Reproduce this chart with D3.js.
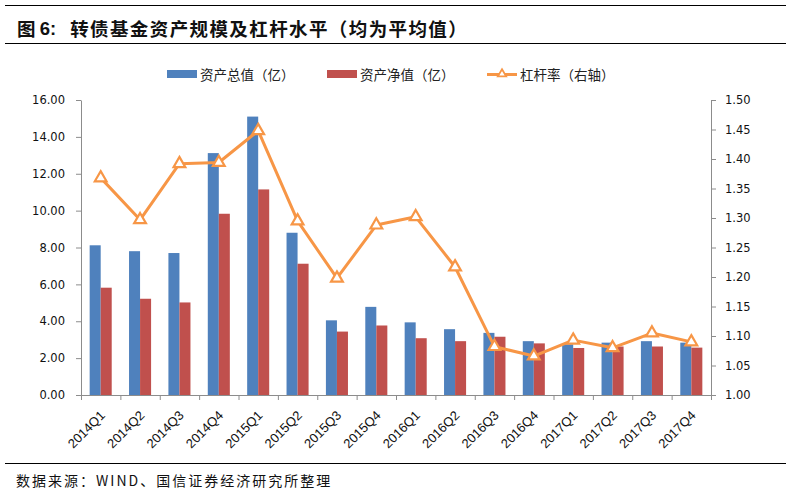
<!DOCTYPE html>
<html><head><meta charset="utf-8">
<script src="https://cdn.jsdelivr.net/npm/d3@7/dist/d3.min.js"></script>
<style>
html,body{margin:0;padding:0;background:#fff;}
svg{display:block;}
</style></head>
<body>
<script>
const categories = ["2014Q1","2014Q2","2014Q3","2014Q4","2015Q1","2015Q2","2015Q3","2015Q4","2016Q1","2016Q2","2016Q3","2016Q4","2017Q1","2017Q2","2017Q3","2017Q4"];
const totalAssets = [8.12,7.80,7.70,13.12,15.10,8.80,4.05,4.78,3.94,3.57,3.37,2.92,2.75,2.84,2.92,2.84];
const netAssets   = [5.82,5.22,5.02,9.83,11.15,7.12,3.44,3.77,3.08,2.92,3.16,2.80,2.55,2.63,2.63,2.57];
const leverage    = [1.368,1.297,1.392,1.394,1.448,1.295,1.198,1.288,1.302,1.217,1.082,1.066,1.093,1.080,1.105,1.090];
const leftTicks  = [0,2,4,6,8,10,12,14,16];
const rightTicks = [1.00,1.05,1.10,1.15,1.20,1.25,1.30,1.35,1.40,1.45,1.50];
const seriesNames = ["资产总值（亿）","资产净值（亿）","杠杆率（右轴）"];
const colors = {blue:"#4F81BD", red:"#C0504D", orange:"#F79646", axis:"#8c8c8c"};

const W = 791, H = 496;
const m = {left:81, right:711, top:100, bottom:395};
const svg = d3.select("body").append("svg").attr("width",W).attr("height",H);

const cjk = "'Noto Sans CJK SC','Noto Sans',sans-serif";
// Title and rules
svg.append("line").attr("x1",5).attr("x2",786).attr("y1",5.5).attr("y2",5.5).attr("stroke","#000").attr("stroke-width",1.2);
svg.append("line").attr("x1",5).attr("x2",786).attr("y1",43.5).attr("y2",43.5).attr("stroke","#000").attr("stroke-width",1.2);
svg.append("line").attr("x1",5).attr("x2",786).attr("y1",463.5).attr("y2",463.5).attr("stroke","#000").attr("stroke-width",1.2);
const title = svg.append("text").attr("x",17).attr("y",28).attr("dominant-baseline","central")
  .attr("font-family",cjk).attr("font-weight","bold").attr("font-size",18.5).attr("fill","#111");
title.append("tspan").text("图 ");
title.append("tspan").attr("font-family","'Liberation Sans',Arial,sans-serif").text("6:");
title.append("tspan").attr("dx",14).attr("letter-spacing",1.4).text("转债基金资产规模及杠杆水平（均为平均值）");

svg.append("text").attr("x",16).attr("y",480).attr("dominant-baseline","central")
  .attr("font-family",cjk).attr("font-size",14).attr("letter-spacing",2).attr("fill","#111")
  .text("数据来源：WIND、国信证券经济研究所整理");

// Scales
const x = d3.scaleBand().domain(categories).range([m.left,m.right]).paddingInner(0).paddingOuter(0);
const yL = d3.scaleLinear().domain([0,16]).range([m.bottom,m.top]);
const yR = d3.scaleLinear().domain([1.0,1.5]).range([m.bottom,m.top]);
const bw = x.bandwidth()*0.28;

// Bars
const g = svg.append("g");
g.selectAll("rect.total").data(categories).join("rect")
  .attr("x",d=>x(d)+x.bandwidth()/2-bw).attr("width",bw)
  .attr("y",(d,i)=>yL(totalAssets[i])).attr("height",(d,i)=>yL(0)-yL(totalAssets[i]))
  .attr("fill",colors.blue);
g.selectAll("rect.net").data(categories).join("rect")
  .attr("x",d=>x(d)+x.bandwidth()/2).attr("width",bw)
  .attr("y",(d,i)=>yL(netAssets[i])).attr("height",(d,i)=>yL(0)-yL(netAssets[i]))
  .attr("fill",colors.red);

// Axes
const tickFont = "'DejaVu Sans',Verdana,sans-serif";
const axL = svg.append("g").attr("transform",`translate(${m.left},0)`)
  .call(d3.axisLeft(yL).tickValues(leftTicks).tickFormat(d3.format(".2f")).tickSize(5).tickSizeOuter(0).tickPadding(11));
const axR = svg.append("g").attr("transform",`translate(${m.right},0)`)
  .call(d3.axisRight(yR).tickValues(rightTicks).tickFormat(d3.format(".2f")).tickSize(5).tickSizeOuter(0).tickPadding(9));
[axL,axR].forEach(a=>{
  a.select(".domain").attr("stroke",colors.axis);
  a.selectAll(".tick line").attr("stroke",colors.axis);
  a.selectAll("text").attr("font-family",tickFont).attr("font-size",11.5).attr("fill","#111");
});
// X axis: line + boundary ticks
const xb = d3.scaleLinear().domain([0,categories.length]).range([m.left,m.right]);
const axX = svg.append("g").attr("transform",`translate(0,${m.bottom})`)
  .call(d3.axisBottom(xb).tickValues(d3.range(categories.length+1)).tickSize(5).tickSizeOuter(0).tickFormat(""));
axX.select(".domain").attr("stroke",colors.axis);
axX.selectAll(".tick line").attr("stroke",colors.axis);
svg.append("g").selectAll("text").data(categories).join("text")
  .attr("transform",d=>`translate(${x(d)+x.bandwidth()/2+2},${m.bottom+18}) rotate(-45)`)
  .attr("text-anchor","end").attr("dominant-baseline","central")
  .attr("font-family","'Liberation Sans',Arial,sans-serif").attr("font-size",13).attr("fill","#111")
  .text(d=>d);

// Line
const line = d3.line().x((d,i)=>x(categories[i])+x.bandwidth()/2).y(d=>yR(d));
svg.append("path").datum(leverage).attr("d",line).attr("fill","none")
  .attr("stroke",colors.orange).attr("stroke-width",3).attr("stroke-linejoin","round");
const tri = d3.symbol().type(d3.symbolTriangle).size(60);
svg.append("g").selectAll("path").data(leverage).join("path")
  .attr("d",tri).attr("transform",(d,i)=>`translate(${x(categories[i])+x.bandwidth()/2},${yR(d)})`)
  .attr("fill","#fff").attr("stroke",colors.orange).attr("stroke-width",2.2);

// Legend
const lg = svg.append("g").attr("font-family",cjk).attr("font-size",13.5).attr("fill","#222");
const ly = 74;
lg.append("rect").attr("x",167).attr("y",ly-4).attr("width",30).attr("height",8).attr("fill",colors.blue);
lg.append("text").attr("x",200).attr("y",ly).attr("dominant-baseline","central").text(seriesNames[0]);
lg.append("rect").attr("x",327).attr("y",ly-4).attr("width",30).attr("height",8).attr("fill",colors.red);
lg.append("text").attr("x",360).attr("y",ly).attr("dominant-baseline","central").text(seriesNames[1]);
lg.append("line").attr("x1",487).attr("x2",517).attr("y1",ly+0.5).attr("y2",ly+0.5).attr("stroke",colors.orange).attr("stroke-width",3);
lg.append("path").attr("d",d3.symbol().type(d3.symbolTriangle).size(30)).attr("transform",`translate(502,${ly})`)
  .attr("fill","#fff").attr("stroke",colors.orange).attr("stroke-width",1.8);
lg.append("text").attr("x",520).attr("y",ly).attr("dominant-baseline","central").text(seriesNames[2]);
</script>
</body></html>
